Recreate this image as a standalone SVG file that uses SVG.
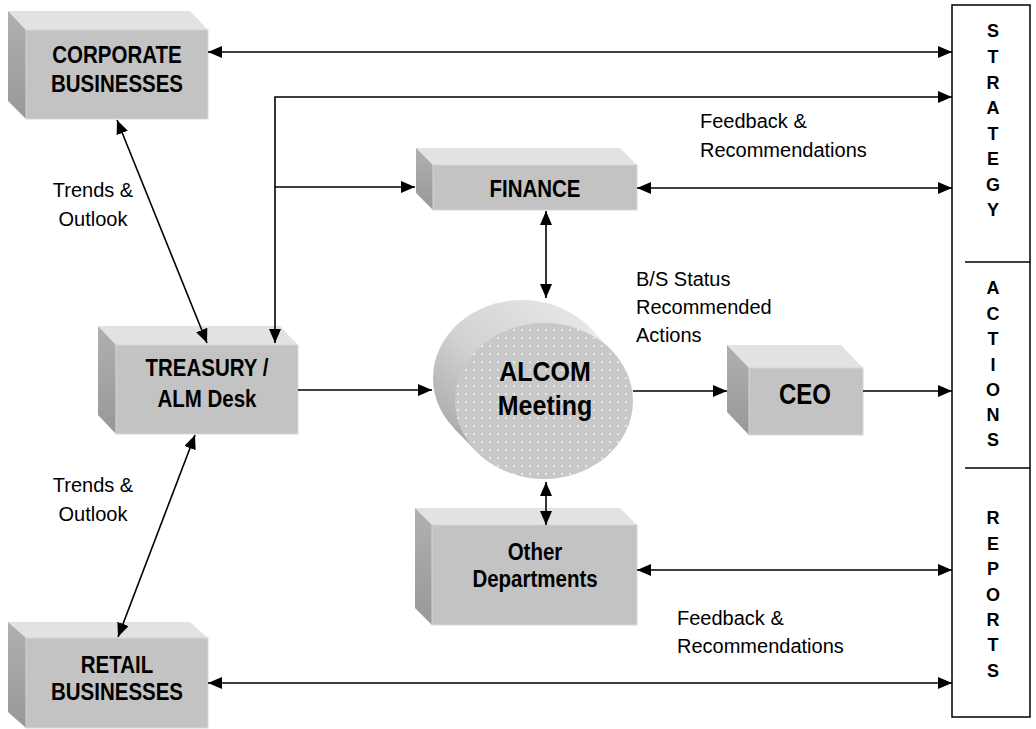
<svg xmlns="http://www.w3.org/2000/svg" width="1036" height="729" viewBox="0 0 1036 729">
  <style>
    .top { fill: #e2e2e2; }
    .side { fill: url(#sideShade); }
    .front { fill: #c3c3c3; stroke: #d6d6d6; stroke-width: 1; }
    .lbl { font-family: "Liberation Sans", Arial, sans-serif; font-weight: bold; font-size: 20.5px; fill: #000; text-anchor: middle; }
    .note { font-family: "Liberation Sans", Arial, sans-serif; font-size: 20px; fill: #000; }
    .panel { font-family: "Liberation Sans", Arial, sans-serif; font-weight: bold; font-size: 18px; fill: #000; text-anchor: middle; }
    .wire { fill: none; stroke: #000; stroke-width: 1.6; }
    .both { marker-start: url(#head); marker-end: url(#head); }
    .one { marker-end: url(#head); }
  </style>
  <defs>
    <linearGradient id="sideShade" x1="0" y1="0" x2="0" y2="1">
      <stop offset="0" stop-color="#b0b0b0"/>
      <stop offset="1" stop-color="#989898"/>
    </linearGradient>
    <linearGradient id="drumShade" x1="0" y1="1" x2="1" y2="0">
      <stop offset="0" stop-color="#9e9e9e"/>
      <stop offset="0.45" stop-color="#d2d2d2"/>
      <stop offset="1" stop-color="#ececec"/>
    </linearGradient>
    <pattern id="dots" width="8" height="8" patternUnits="userSpaceOnUse">
      <rect width="8" height="8" fill="#c8c8c8"/>
      <circle cx="2" cy="2" r="1" fill="#f6f6f6"/>
    </pattern>
    <marker id="head" viewBox="0 0 14 12" markerWidth="14" markerHeight="12" refX="14" refY="6" markerUnits="userSpaceOnUse" orient="auto-start-reverse">
      <path d="M0,0 L14,6 L0,12 z" fill="#000"/>
    </marker>
  </defs>

  <rect width="1036" height="729" fill="#fff"/>

  <g id="corporate">
    <polygon class="top" points="8,11 190,11 208,30 26,30"/>
    <polygon class="side" points="8,11 26,30 26,119 8,101"/>
    <rect class="front" x="26" y="30" width="182" height="89"/>
    <text class="lbl" transform="translate(117,63) scale(1,1.15)">CORPORATE</text>
    <text class="lbl" transform="translate(117,92) scale(1,1.15)">BUSINESSES</text>
  </g>

  <g id="treasury">
    <polygon class="top" points="98,326 280,326 298,345 116,345"/>
    <polygon class="side" points="98,326 116,345 116,434 98,415"/>
    <rect class="front" x="116" y="345" width="182" height="89"/>
    <text class="lbl" transform="translate(207,376) scale(1,1.15)">TREASURY /</text>
    <text class="lbl" transform="translate(207,407) scale(1,1.15)">ALM Desk</text>
  </g>

  <g id="finance">
    <polygon class="top" points="416,148 620,148 637,165 433,165"/>
    <polygon class="side" points="416,148 433,165 433,210 416,193"/>
    <rect class="front" x="433" y="165" width="204" height="45"/>
    <text class="lbl" transform="translate(535,197) scale(1,1.15)">FINANCE</text>
  </g>

  <g id="alcom">
    <ellipse cx="522" cy="378" rx="89" ry="78" fill="url(#drumShade)"/>
    <polygon points="590.2,327.9 612.2,350.9 475.8,451.1 453.8,428.1" fill="url(#drumShade)"/>
    <ellipse cx="544" cy="401" rx="89" ry="78" fill="url(#dots)"/>
    <text class="lbl" transform="translate(545,381) scale(1,1.12)" style="font-size:25px">ALCOM</text>
    <text class="lbl" transform="translate(545,415) scale(1,1.12)" style="font-size:25px">Meeting</text>
  </g>

  <g id="ceo">
    <polygon class="top" points="727,345 841,345 863,368 749,368"/>
    <polygon class="side" points="727,345 749,368 749,435 727,412"/>
    <rect class="front" x="749" y="368" width="114" height="67"/>
    <text class="lbl" transform="translate(805,404) scale(1,1.2)" style="font-size:24px">CEO</text>
  </g>

  <g id="other-departments">
    <polygon class="top" points="415,508 620,508 637,525 432,525"/>
    <polygon class="side" points="415,508 432,525 432,625 415,608"/>
    <rect class="front" x="432" y="525" width="205" height="100"/>
    <text class="lbl" transform="translate(535,560) scale(1,1.15)">Other</text>
    <text class="lbl" transform="translate(535,587) scale(1,1.15)">Departments</text>
  </g>

  <g id="retail">
    <polygon class="top" points="8,622 190,622 208,638 26,638"/>
    <polygon class="side" points="8,622 26,638 26,728 8,712"/>
    <rect class="front" x="26" y="638" width="182" height="90"/>
    <text class="lbl" transform="translate(117,673) scale(1,1.15)">RETAIL</text>
    <text class="lbl" transform="translate(117,700) scale(1,1.15)">BUSINESSES</text>
  </g>

  <g id="strategy-panel">
    <rect x="952" y="5" width="78" height="712" fill="#fff" stroke="#000" stroke-width="1.5"/>
    <line x1="965" y1="262" x2="1030" y2="262" stroke="#000" stroke-width="1.5"/>
    <line x1="965" y1="468" x2="1030" y2="468" stroke="#000" stroke-width="1.5"/>
    <text class="panel" x="993" y="37">S</text>
    <text class="panel" x="993" y="63">T</text>
    <text class="panel" x="993" y="89">R</text>
    <text class="panel" x="993" y="114">A</text>
    <text class="panel" x="993" y="140">T</text>
    <text class="panel" x="993" y="165">E</text>
    <text class="panel" x="993" y="191">G</text>
    <text class="panel" x="993" y="216">Y</text>
    <text class="panel" x="993" y="294">A</text>
    <text class="panel" x="993" y="320">C</text>
    <text class="panel" x="993" y="345">T</text>
    <text class="panel" x="993" y="371">I</text>
    <text class="panel" x="993" y="396">O</text>
    <text class="panel" x="993" y="421">N</text>
    <text class="panel" x="993" y="446">S</text>
    <text class="panel" x="993" y="524">R</text>
    <text class="panel" x="993" y="550">E</text>
    <text class="panel" x="993" y="575">P</text>
    <text class="panel" x="993" y="601">O</text>
    <text class="panel" x="993" y="626">R</text>
    <text class="panel" x="993" y="651">T</text>
    <text class="panel" x="993" y="677">S</text>
  </g>

  <g id="labels">
    <text class="note" x="93" y="197" text-anchor="middle">Trends &amp;</text>
    <text class="note" x="93" y="226" text-anchor="middle">Outlook</text>
    <text class="note" x="93" y="492" text-anchor="middle">Trends &amp;</text>
    <text class="note" x="93" y="521" text-anchor="middle">Outlook</text>
    <text class="note" x="700" y="128">Feedback &amp;</text>
    <text class="note" x="700" y="157">Recommendations</text>
    <text class="note" x="636" y="286">B/S Status</text>
    <text class="note" x="636" y="314">Recommended</text>
    <text class="note" x="636" y="342">Actions</text>
    <text class="note" x="677" y="625">Feedback &amp;</text>
    <text class="note" x="677" y="653">Recommendations</text>
  </g>

  <!-- connectors, drawn last so arrowheads sit over the box faces -->
  <g id="connectors">
    <path class="wire both" d="M208,52 H952"/>
    <path class="wire both" d="M952,97 H275 V343"/>
    <path class="wire one" d="M275,187 H415"/>
    <path class="wire both" d="M637,188 H952"/>
    <path class="wire both" d="M546,211 V298"/>
    <path class="wire both" d="M117,120 L207,343"/>
    <path class="wire both" d="M195,435 L118,637"/>
    <path class="wire one" d="M298,390 H432"/>
    <path class="wire one" d="M633,391 H727"/>
    <path class="wire one" d="M863,391 H952"/>
    <path class="wire both" d="M546,482 V525"/>
    <path class="wire both" d="M637,570 H952"/>
    <path class="wire both" d="M208,683 H952"/>
  </g>
</svg>
